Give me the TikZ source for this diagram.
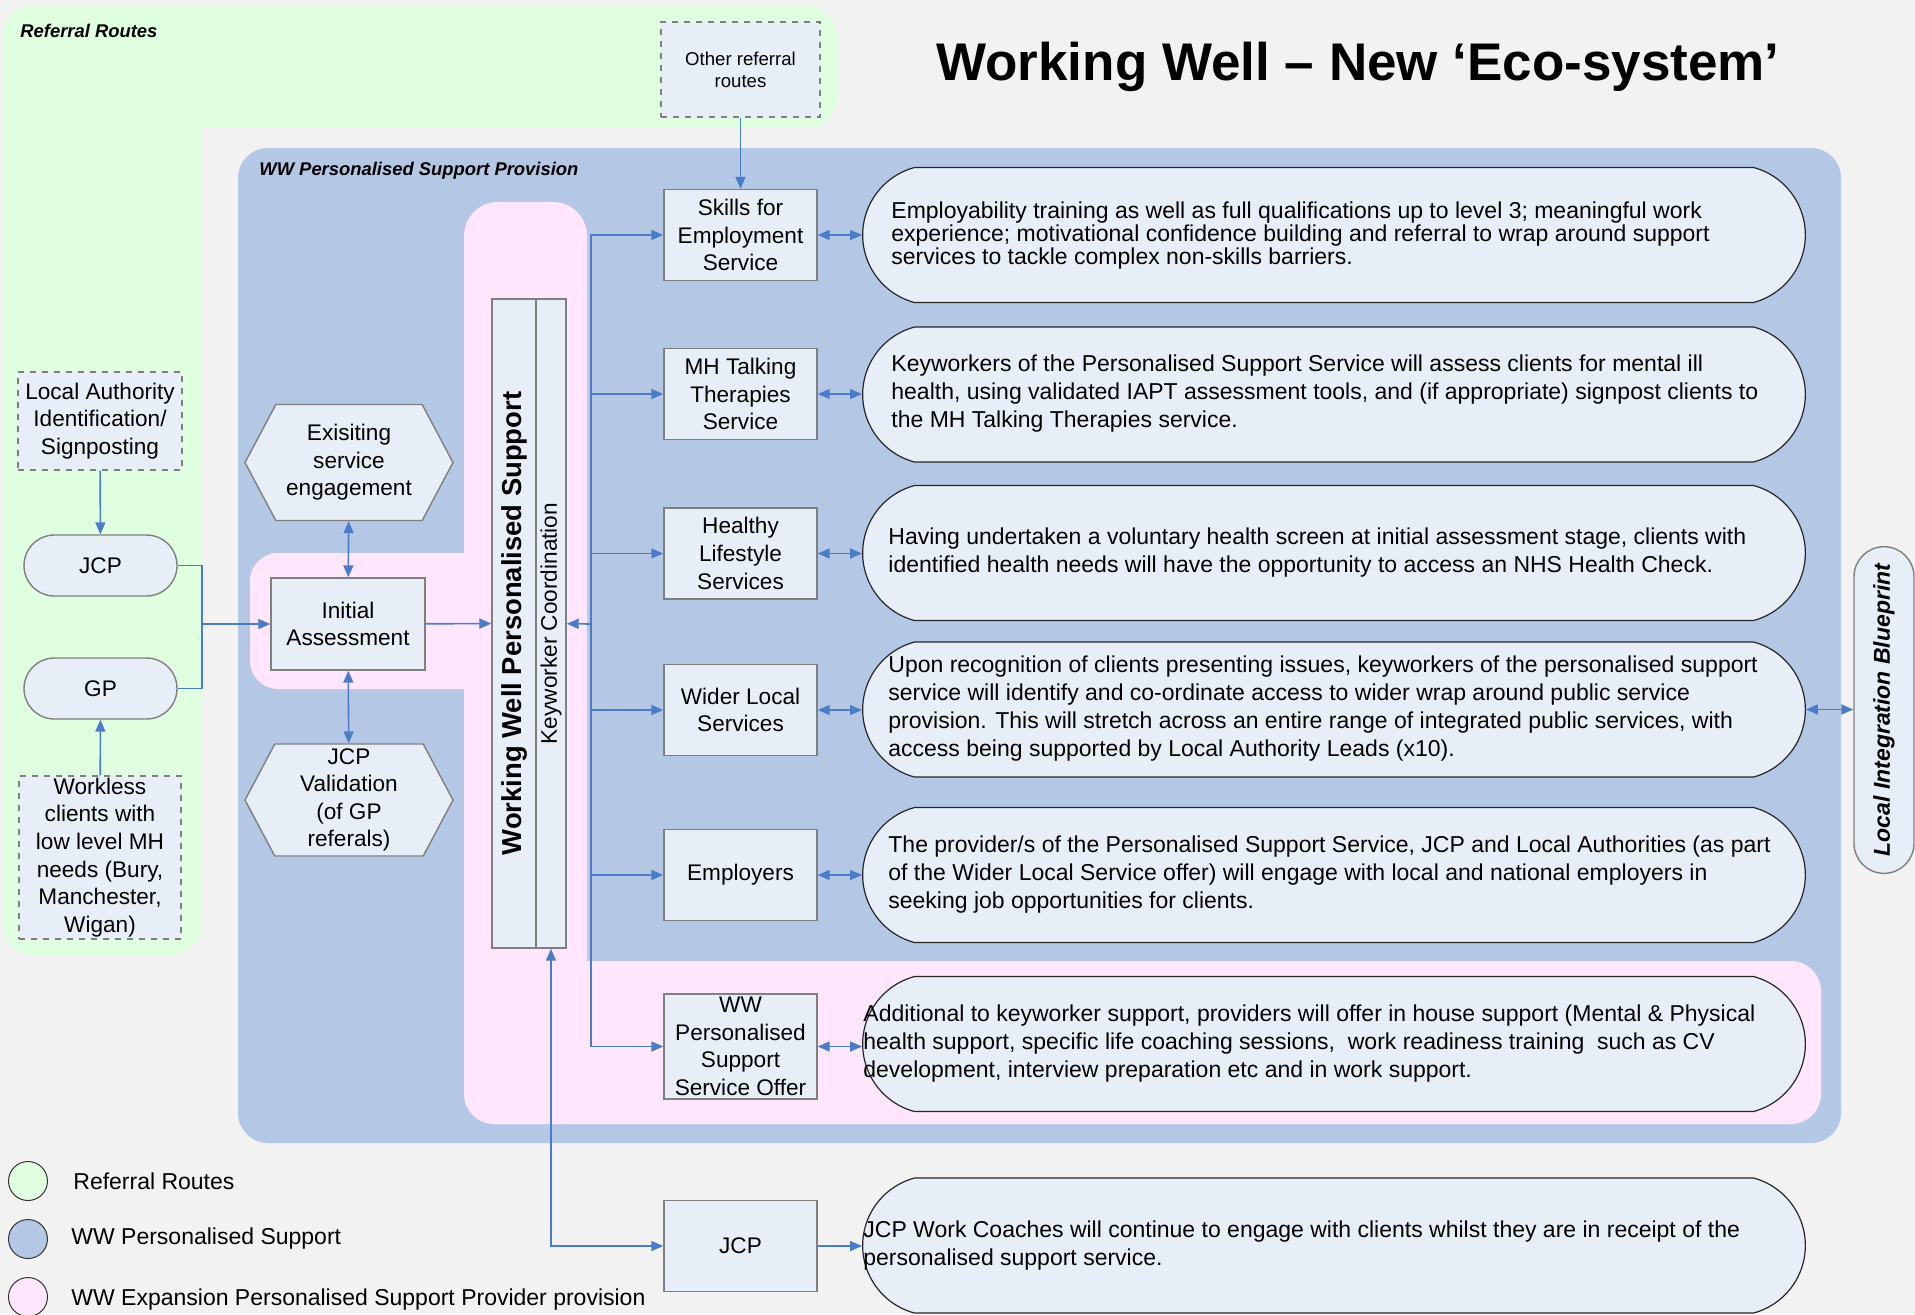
\documentclass[tikz,border=0pt]{standalone}
\usepackage{fontspec}
\setmainfont{Liberation Sans}
\usetikzlibrary{arrows.meta, positioning, shapes.misc, shapes.symbols}

\definecolor{pagegray}{HTML}{F2F2F2}
\definecolor{referralgreen}{HTML}{E0FFE0}
\definecolor{supportblue}{HTML}{B4C8E6}
\definecolor{expansionpink}{HTML}{FFE6FD}
\definecolor{nodefill}{HTML}{E8EEF8}
\definecolor{flowblue}{HTML}{4A7CC8}
\definecolor{boxline}{HTML}{7F7F7F}

\newcommand{\boxfont}{\fontsize{11.3}{13.8}\selectfont}
\newcommand{\descfont}{\fontsize{11.5}{14}\selectfont}
\newcommand{\zonefont}{\fontsize{9.2}{11}\selectfont\bfseries\itshape}

\begin{document}
\begin{tikzpicture}[x=0.5pt, y=-0.5pt,
    font=\boxfont,
    box/.style={rectangle, draw=boxline, line width=0.7pt, fill=nodefill, align=center,
      inner sep=0pt, minimum width=76.5pt, minimum height=45.5pt},
    dashbox/.style={box, dashed},
    pill/.style={rounded rectangle, draw=boxline, line width=0.7pt, fill=nodefill,
      inner sep=0pt, minimum width=76.5pt, minimum height=30.5pt},
    hexa/.style={signal, signal to=east and west, signal pointer angle=124, draw=boxline,
      line width=0.7pt, fill=nodefill, align=center, inner sep=0pt,
      minimum width=104pt, minimum height=58pt},
    desc/.style={rounded rectangle, rounded rectangle arc length=150, draw=black!85,
      line width=0.6pt, fill=nodefill, minimum width=478pt, minimum height=67.5pt},
    desctext/.style={anchor=west, align=left, inner sep=0pt, font=\descfont},
    plain/.style={anchor=west, inner sep=0pt},
    key/.style={circle, draw=black!80, line width=0.5pt, minimum size=19.5pt, inner sep=0pt},
    flow/.style={draw=flowblue, line width=0.8pt, -{Triangle[length=6pt, width=5pt]}},
    twoway/.style={flow, {Triangle[length=6pt, width=5pt]}-{Triangle[length=6pt, width=5pt]}},
    link/.style={draw=flowblue, line width=0.6pt},
  ]
  \useasboundingbox (0,0) rectangle (1915,1314);
  \clip (0,0) rectangle (1915,1314);
  \fill[pagegray] (0,0) rectangle (1915,1314);

  % zones
  \fill[referralgreen, rounded corners=15pt] (3,6) rectangle (201,955);
  \fill[referralgreen, rounded corners=15pt] (3,6) rectangle (837,128);
  \fill[supportblue, rounded corners=15pt] (238,148) rectangle (1841,1143);
  \fill[expansionpink, rounded corners=17pt] (464,202) rectangle (587,1124);
  \fill[expansionpink, rounded corners=14pt] (250,553) rectangle (500,689);
  \fill[expansionpink, rounded corners=15pt] (464,961) rectangle (1821,1124);
  \node[plain, font=\zonefont] (referraltitle) at (20,31) {Referral Routes};
  \node[plain, font=\zonefont] (provisiontitle) at (259,171) {WW Personalised Support Provision};

  \node[font=\fontsize{26.5}{30}\selectfont\bfseries] (title) at (1358,67) {Working Well – New ‘Eco-system’};

  % referral routes
  \node[dashbox, minimum width=82pt, minimum height=49pt] (la) at (100,421) {Local Authority\\Identification/\\Signposting};
  \node[pill] (jcp) at (100.5,565.5) {JCP};
  \node[pill] (gp) at (100.5,688.5) {GP};
  \node[dashbox, minimum width=81pt, minimum height=81.5pt] (workless) at (100,857.5) {Workless\\clients with\\low level MH\\needs (Bury,\\Manchester,\\Wigan)};
  \node[dashbox, minimum width=79.5pt, minimum height=47.5pt, font=\fontsize{9.3}{11}\selectfont] (other) at (740.5,69.5) {Other referral\\routes};

  % assessment
  \node[box, minimum width=77pt, minimum height=46pt] (assess) at (348,624) {Initial\\Assessment};
  \node[hexa] (existing) at (349,462.5) {Exisiting\\service\\engagement};
  \node[hexa, minimum height=56pt] (validation) at (349,800) {JCP\\Validation\\(of GP\\referals)};

  % personalised support column
  \node[box, minimum width=22pt, minimum height=324.5pt] (wwps) at (514,623.5) {};
  \node[box, minimum width=15pt, minimum height=324.5pt] (kw) at (551,623.5) {};
  \node[rotate=90, font=\fontsize{13.7}{16}\selectfont\bfseries] (wwpslabel) at (wwps) {Working Well Personalised Support};
  \node[rotate=90] (kwlabel) at (kw) {Keyworker Coordination};

  % services
  \node[box] (skills) at (740.5,235) {Skills for\\Employment\\Service};
  \node[box] (talking) at (740.5,394) {MH Talking\\Therapies\\Service};
  \node[box] (lifestyle) at (740.5,553.5) {Healthy\\Lifestyle\\Services};
  \node[box] (wider) at (740.5,710) {Wider Local\\Services};
  \node[box] (employers) at (740.5,875) {Employers};
  \node[box, minimum height=52.5pt] (offer) at (740.5,1046.5) {WW\\Personalised\\Support\\Service Offer};
  \node[box] (coach) at (740.5,1246) {JCP};

  % what each service does
  \node[desc] (skillsinfo) at (1334,235) {};
  \node[desc] (talkinginfo) at (1334,394.5) {};
  \node[desc] (lifestyleinfo) at (1334,553) {};
  \node[desc] (widerinfo) at (1334,709.5) {};
  \node[desc] (employersinfo) at (1334,875) {};
  \node[desc] (offerinfo) at (1334,1044) {};
  \node[desc] (coachinfo) at (1334,1245.5) {};
  \node[desctext, font=\fontsize{11.5}{11.5}\selectfont] (skillstext) at (891,236) {Employability training as well as full qualifications up to level 3; meaningful work\\experience; motivational confidence building and referral to wrap around support\\services to tackle complex non-skills barriers.};
  \node[desctext] (talkingtext) at (891,394) {Keyworkers of the Personalised Support Service will assess clients for mental ill\\health, using validated IAPT assessment tools, and (if appropriate) signpost clients to\\the MH Talking Therapies service.};
  \node[desctext] (lifestyletext) at (888,553) {Having undertaken a voluntary health screen at initial assessment stage, clients with\\identified health needs will have the opportunity to access an NHS Health Check.};
  \node[desctext] (widertext) at (888,709) {Upon recognition of clients presenting issues, keyworkers of the personalised support\\service will identify and co-ordinate access to wider wrap around public service\\provision. This will stretch across an entire range of integrated public services, with\\access being supported by Local Authority Leads (x10).};
  \node[desctext] (employerstext) at (888,875) {The provider/s of the Personalised Support Service, JCP and Local Authorities (as part\\of the Wider Local Service offer) will engage with local and national employers in\\seeking job opportunities for clients.};
  \node[desctext] (offertext) at (863,1044) {Additional to keyworker support, providers will offer in house support (Mental \& Physical\\health support, specific life coaching sessions,\ \ work readiness training\ \ such as CV\\development, interview preparation etc and in work support.};
  \node[desctext] (coachtext) at (863,1246) {JCP Work Coaches will continue to engage with clients whilst they are in receipt of the\\personalised support service.};

  \node[rounded rectangle, rotate=90, draw=boxline, line width=0.7pt, fill=nodefill,
    minimum width=170pt, minimum height=30pt, font=\fontsize{11.5}{14}\selectfont\bfseries\itshape] (blueprint) at (1884,710) {Local Integration Blueprint};

  % legend
  \node[key, fill=referralgreen] (keyreferral) at (28,1181) {};
  \node[key, fill=supportblue] (keysupport) at (28,1239) {};
  \node[key, fill=expansionpink] (keyexpansion) at (28,1297) {};
  \node[plain, font=\descfont] (keyreferraltext) at (73,1181) {Referral Routes};
  \node[plain, font=\descfont] (keysupporttext) at (71,1239) {WW Personalised Support};
  \node[plain, font=\descfont] (keyexpansiontext) at (71,1300) {WW Expansion Personalised Support Provider provision};

  % connectors
  \draw[flow] (la) -- (jcp);
  \draw[flow] (workless) -- (gp);
  \coordinate (merge) at (202,624);
  \draw[link] (jcp.east) -| (merge);
  \draw[link] (gp.east) -| (merge);
  \draw[flow] (merge) -- (assess);
  \draw[twoway] (existing) -- (assess);
  \draw[twoway] (validation) -- (assess);
  \draw[flow] (assess) -- (wwps);
  \draw[flow] (other) -- (skills);

  \coordinate (bus) at (591,624);
  \draw[flow] (bus) -- (kw);
  \foreach \s in {skills,talking,lifestyle,wider,employers,offer}
    \draw[flow] (bus) |- (\s);
  \foreach \s in {skills,talking,lifestyle,wider,employers,offer}
    \draw[twoway] (\s) -- (\s -| \s info.west);
  \draw[twoway] (kw.south) |- (coach);
  \draw[flow] (coach) -- (coach -| coachinfo.west);
  \draw[twoway] (widerinfo.east) -- (widerinfo.east -| blueprint.north);
\end{tikzpicture}
\end{document}
